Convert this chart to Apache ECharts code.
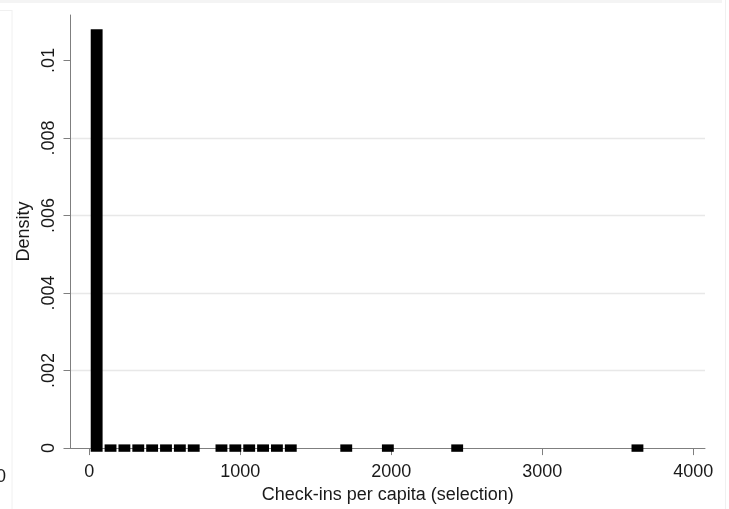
<!DOCTYPE html>
<html>
<head>
<meta charset="utf-8">
<script src="https://cdn.jsdelivr.net/npm/echarts@6/dist/echarts.min.js"></script>
<style>
html,body{margin:0;padding:0;background:#fff;}
#c{width:729px;height:509px;}
</style>
</head>
<body>
<div id="c"></div>
<script>
// Histogram bins (bin centers, density)
const binWidth = 91.85;
const binCenters = [48.3, 140.2, 232.0, 323.9, 415.7, 507.6, 599.4, 691.3, 874.9, 966.8, 1058.7, 1150.5, 1242.4, 1334.2, 1701.6, 1977.2, 2436.4, 3630.5];
const densities  = [0.0108, 0.0000109, 0.0000054, 0.0000054, 0.0000054, 0.0000054, 0.0000054, 0.0000054, 0.0000054, 0.0000054, 0.0000054, 0.0000054, 0.0000054, 0.0000054, 0.0000054, 0.0000054, 0.0000054, 0.0000054];
const xTickValues = [0, 1000, 2000, 3000, 4000];
const xTickLabels = ["0", "1000", "2000", "3000", "4000"];
const yTickValues = [0, 0.002, 0.004, 0.006, 0.008, 0.01];
const yTickLabels = ["0", ".002", ".004", ".006", ".008", ".01"];
const xTitle = "Check-ins per capita (selection)";
const yTitle = "Density";

const FONT = "'Liberation Sans', Arial, sans-serif";
const AXIS = '#7f7f7f';
const TEXT = '#1a1a1a';

const chart = echarts.init(document.getElementById('c'), null, {renderer: 'canvas'});

const data = binCenters.map((c, i) => [c, densities[i]]);

const option = {
  backgroundColor: '#ffffff',
  animation: false,
  grid: {left: 70.5, right: 24, top: 15, bottom: 54.7, containLabel: false},
  xAxis: {
    type: 'value',
    min: -125, max: 4078,
    name: xTitle,
    nameLocation: 'middle',
    nameGap: 34,
    nameTextStyle: {fontFamily: FONT, fontSize: 18, color: TEXT},
    axisLine: {show: true, onZero: false, lineStyle: {color: AXIS, width: 1}},
    axisTick: {show: true, length: 7, lineStyle: {color: AXIS, width: 1}, customValues: xTickValues},
    axisLabel: {
      customValues: xTickValues,
      margin: 15,
      fontFamily: FONT, fontSize: 18, color: TEXT,
      formatter: v => { const i = xTickValues.indexOf(v); return i >= 0 ? xTickLabels[i] : ''; }
    },
    splitLine: {show: false}
  },
  yAxis: {
    type: 'value',
    min: 0, max: 0.01117,
    name: yTitle,
    nameLocation: 'middle',
    nameGap: 37,
    nameRotate: 90,
    nameTextStyle: {fontFamily: FONT, fontSize: 18, color: TEXT},
    axisLine: {show: true, onZero: false, lineStyle: {color: AXIS, width: 1}},
    axisTick: {show: true, length: 7, lineStyle: {color: AXIS, width: 1}, customValues: yTickValues},
    axisLabel: {
      customValues: yTickValues,
      rotate: 90,
      margin: 12,
      fontFamily: FONT, fontSize: 18, color: TEXT,
      formatter: v => { let best = -1; yTickValues.forEach((t, i) => { if (Math.abs(t - v) < 1e-9) best = i; }); return best >= 0 ? yTickLabels[best] : ''; }
    },
    splitLine: {show: true, showMinLine: false, showMaxLine: false, lineStyle: {color: '#e8e8e8', width: 1.3}}
  },
  series: [{
    type: 'custom',
    data: data,
    clip: false,
    renderItem: function (params, api) {
      const c = api.value(0);
      const v = api.value(1);
      const left = api.coord([c - binWidth / 2, 0]);
      const right = api.coord([c + binWidth / 2, 0]);
      const top = api.coord([c, v]);
      const base = left[1];
      const half = 3.7;
      const x = left[0] + 1;
      const w = right[0] - left[0] - 2;
      const y = Math.min(top[1], base - half);
      return {
        type: 'rect',
        shape: {x: x, y: y, width: w, height: base + half - y},
        style: {fill: '#000000'}
      };
    }
  }],
  graphic: [
    {type: 'rect', shape: {x: 0, y: 0, width: 722, height: 3}, style: {fill: '#f4f4f4'}, silent: true, z: -1},
    {type: 'line', shape: {x1: 0, y1: 10.5, x2: 12, y2: 10.5}, style: {stroke: '#f0f0f0', lineWidth: 1}, silent: true, z: -1},
    {type: 'line', shape: {x1: 12, y1: 10, x2: 12, y2: 509}, style: {stroke: '#f0f0f0', lineWidth: 1}, silent: true, z: -1},
    {type: 'line', shape: {x1: 725.5, y1: 0, x2: 725.5, y2: 509}, style: {stroke: '#f0f0f0', lineWidth: 1}, silent: true, z: -1},
    {type: 'text', left: -4, top: 468, style: {text: '0', font: '18px ' + FONT, fill: TEXT}, silent: true}
  ]
};
chart.setOption(option);
</script>
</body>
</html>
